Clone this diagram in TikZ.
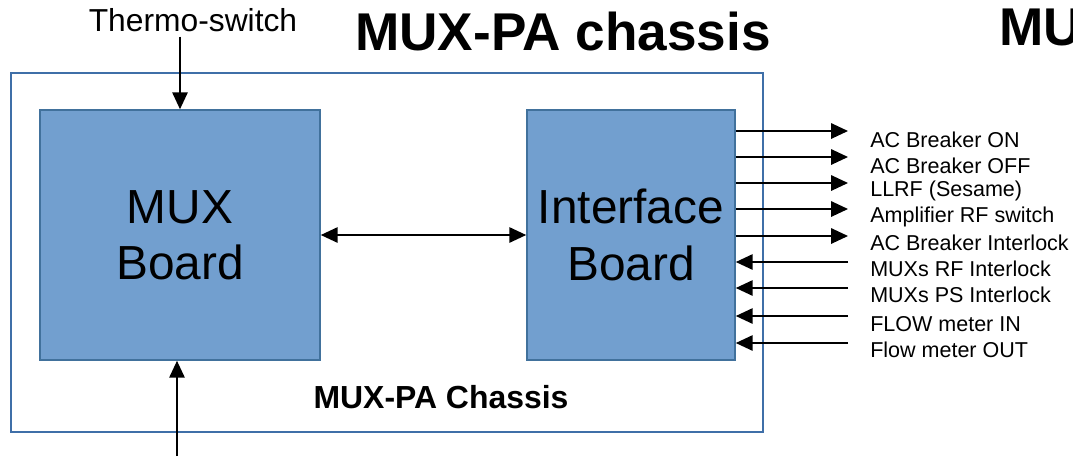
\documentclass[tikz,border=0pt]{standalone}
\usepackage{fontspec}
\setmainfont{Liberation Sans}
\usepackage{tikz}
\usetikzlibrary{arrows.meta, positioning, calc}
\definecolor{boardfill}{HTML}{729FCF}
\definecolor{boardline}{HTML}{41719C}
\definecolor{chassisline}{HTML}{3F6FA8}

\begin{document}
\begin{tikzpicture}[
      x=0.025cm, y=-0.025cm,
      chassis/.style={draw=chassisline, line width=1.1pt},
      board/.style={draw=boardline, line width=1.1pt, fill=boardfill, align=center,
                    font=\fontsize{34}{40}\selectfont, inner sep=0pt},
      sig/.style={anchor=west, inner sep=0pt, font=\fontsize{15.3}{18}\selectfont},
      arr/.style={-{Triangle[length=12pt, width=11pt]}, line width=1pt},
      dbl/.style={{Triangle[length=12pt, width=11pt]}-{Triangle[length=12pt, width=11pt]}, line width=1pt},
    ]
    \useasboundingbox (0,0) rectangle (1073,456);
    \draw[chassis] (11,73) rectangle (763,432);

    \node[board, minimum width=7cm, minimum height=6.25cm] (mux) at (180,235) {MUX\\Board};
    \node[board, minimum width=5.2cm, minimum height=6.25cm] (ifb) at (631,235) {Interface\\Board};

    \node[font=\fontsize{37.8}{44}\selectfont\bfseries] (title) at (563,31) {MUX-PA chassis};
    \node[anchor=west, inner sep=0pt, font=\fontsize{37.8}{44}\selectfont\bfseries] (next) at (999,27) {MU};
    \node[font=\fontsize{22.7}{26}\selectfont\bfseries] (chlabel) at (441,397) {MUX-PA Chassis};
    \node[font=\fontsize{22.6}{26}\selectfont] (thermo) at (193,20) {Thermo-switch};

    % outside feeds into the MUX board
    \coordinate (feed) at (177,456);
    \draw[arr] (thermo.south -| mux.north) -- (mux.north);
    \draw[arr] (feed) -- (feed |- mux.south);
    \draw[dbl] (mux.east) -- (ifb.west);

    % signal ends and names on the right
    \coordinate (o1) at (848,131);
    \coordinate (o2) at (848,157);
    \coordinate (o3) at (848,183);
    \coordinate (o4) at (848,209);
    \coordinate (o5) at (848,236);
    \coordinate (i1) at (848,262);
    \coordinate (i2) at (848,288);
    \coordinate (i3) at (848,316);
    \coordinate (i4) at (848,343);

    \node[sig] (s1) at (870,140) {AC Breaker ON};
    \node[sig] (s2) at (870,166) {AC Breaker OFF};
    \node[sig] (s3) at (870,191) {LLRF (Sesame)};
    \node[sig] (s4) at (870,217) {Amplifier RF switch};
    \node[sig] (s5) at (870,243) {AC Breaker Interlock};
    \node[sig] (s6) at (870,269) {MUXs RF Interlock};
    \node[sig] (s7) at (870,295) {MUXs PS Interlock};
    \node[sig] (s8) at (870,324) {FLOW meter IN};
    \node[sig] (s9) at (870,350) {Flow meter OUT};

    \draw[arr] (ifb.east |- o1) -- (o1);
    \draw[arr] (ifb.east |- o2) -- (o2);
    \draw[arr] (ifb.east |- o3) -- (o3);
    \draw[arr] (ifb.east |- o4) -- (o4);
    \draw[arr] (ifb.east |- o5) -- (o5);
    \draw[arr] (i1) -- (ifb.east |- i1);
    \draw[arr] (i2) -- (ifb.east |- i2);
    \draw[arr] (i3) -- (ifb.east |- i3);
    \draw[arr] (i4) -- (ifb.east |- i4);
    \end{tikzpicture}
\end{document}
